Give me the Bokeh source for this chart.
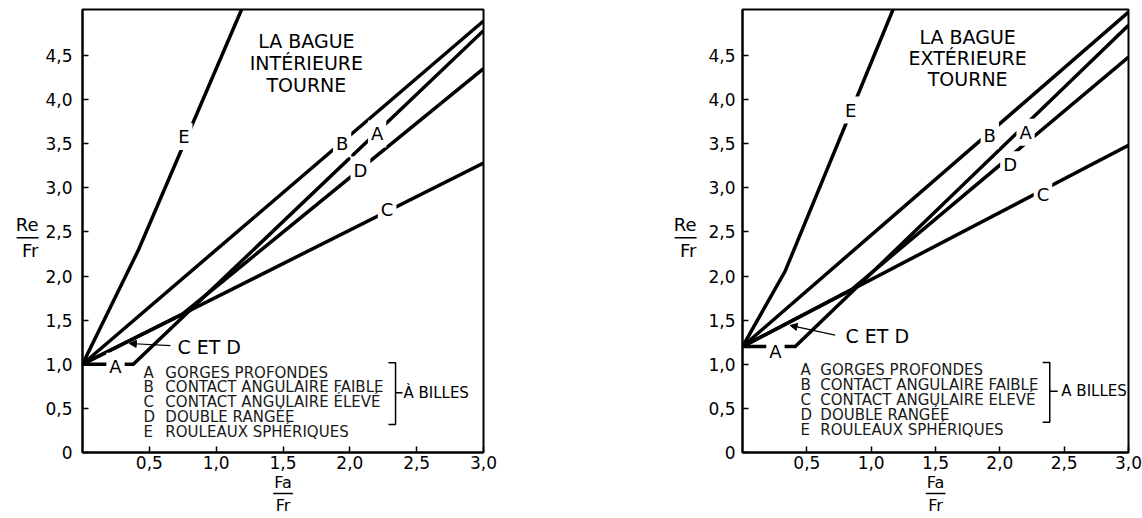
from bokeh.plotting import figure
from bokeh.layouts import row
from bokeh.models import (Label, Arrow, NormalHead, FixedTicker, CustomJSTickFormatter,
                          Range1d, ColumnDataSource)
from bokeh.core.properties import value
from bokeh.embed import file_html
from bokeh.resources import INLINE

# ---------------- data ----------------
curve_letters = ["A", "B", "C", "D", "E"]

# Inner ring rotates (left panel)
inner_A_x = [0.0, 0.38, 3.0]
inner_A_y = [1.0, 1.0, 4.78]
inner_B_x = [0.0, 3.0]
inner_B_y = [1.0, 4.89]
inner_C_x = [0.0, 3.0]
inner_C_y = [1.0, 3.28]
inner_D_x = [0.0, 0.75, 3.0]
inner_D_y = [1.0, 1.57, 4.35]
inner_E_x = [0.0, 0.42, 1.19]
inner_E_y = [1.0, 2.30, 5.02]

# Outer ring rotates (right panel)
outer_A_x = [0.0, 0.41, 3.0]
outer_A_y = [1.2, 1.2, 4.84]
outer_B_x = [0.0, 3.0]
outer_B_y = [1.2, 4.99]
outer_C_x = [0.0, 3.0]
outer_C_y = [1.2, 3.48]
outer_D_x = [0.0, 0.85, 3.0]
outer_D_y = [1.2, 1.85, 4.48]
outer_E_x = [0.0, 0.33, 1.17]
outer_E_y = [1.2, 2.05, 5.02]

x_ticks = [0.5, 1.0, 1.5, 2.0, 2.5, 3.0]
y_ticks = [0, 0.5, 1.0, 1.5, 2.0, 2.5, 3.0, 3.5, 4.0, 4.5]

legend_inner = ["GORGES PROFONDES", "CONTACT ANGULAIRE FAIBLE",
                "CONTACT ANGULAIRE ÉLEVÉ", "DOUBLE RANGÉE", "ROULEAUX SPHÉRIQUES"]
legend_outer = ["GORGES PROFONDES", "CONTACT ANGULAIRE FAIBLE",
                "CONTACT ANGULAIRE ELEVÉ", "DOUBLE RANGÉE", "ROULEAUX SPHÉRIQUES"]
title_inner = ["LA BAGUE", "INTÉRIEURE", "TOURNE"]
title_outer = ["LA BAGUE", "EXTÉRIEURE", "TOURNE"]
y_label = "\u00a0\nRe\n──\nFr"
x_label = "Fa\n──\nFr"

FONT = "DejaVu Sans"


def lab(p, x, y, t, size, align="center", bg=None):
    kw = {}
    if bg:
        kw = dict(background_fill_color=bg, padding=3)
    p.add_layout(Label(x=x, y=y, text=t, text_font=FONT, text_font_size=size,
                       text_align=align, text_baseline="middle", text_color="black", **kw))


def panel(width, bl, br, curves, cfg):
    p = figure(width=width, height=518, x_range=Range1d(0, 3), y_range=Range1d(0, 5.02),
               output_backend="svg", toolbar_location=None,
               min_border_left=bl, min_border_right=br, min_border_top=9, min_border_bottom=65)
    p.xgrid.visible = False
    p.ygrid.visible = False
    p.outline_line_color = "black"
    p.outline_line_width = 2
    p.outline_line_alpha = 1
    fmt = CustomJSTickFormatter(code="return tick == 0 ? '0' : tick.toFixed(1).replace('.', ',');")
    for ax, ticks in ((p.xaxis[0], x_ticks), (p.yaxis[0], y_ticks)):
        ax.ticker = FixedTicker(ticks=ticks)
        ax.formatter = fmt
        ax.axis_line_width = 2
        ax.axis_line_color = "black"
        ax.major_tick_in = 6
        ax.major_tick_out = 0
        ax.major_tick_line_width = 1.5
        ax.minor_tick_line_color = None
        ax.major_label_text_font = FONT
        ax.major_label_text_font_size = "17px"
        ax.major_label_text_color = "black"
        ax.axis_label_text_font = FONT
        ax.axis_label_text_font_style = "normal"
        ax.axis_label_text_color = "black"
        ax.axis_label_text_align = "center"
    p.xaxis.major_label_standoff = 3
    p.yaxis.major_label_standoff = cfg["ystand"]
    p.xaxis.axis_label = x_label
    p.xaxis.axis_label_text_font_size = "16px"
    p.xaxis.axis_label_text_line_height = 0.62
    p.xaxis.axis_label_standoff = 1
    p.yaxis.axis_label = y_label
    p.yaxis.axis_label_text_font_size = "18px"
    p.yaxis.axis_label_text_line_height = 0.62
    p.yaxis.axis_label_orientation = "horizontal"
    p.yaxis.axis_label_standoff = cfg["ylstand"]

    for xs, ys in curves:
        p.line(xs, ys, line_width=3.5, line_color="black", line_join="miter")

    # curve labels
    for (x, y), t in zip(cfg["labels"], ["B", "A", "D", "C", "E", "A"]):
        lab(p, x, y, t, "18px", bg="white")

    # title
    for v, t in zip(cfg["title_y"], cfg["title"]):
        lab(p, cfg["title_x"], v, t, "19px")

    # C ET D
    cx, cy = cfg["cetd"]
    lab(p, cx, cy, "C ET D", "19px", align="left")
    ax0, ay0, ax1, ay1 = cfg["arrow"]
    p.add_layout(Arrow(end=NormalHead(size=7, fill_color="black", line_color="black"),
                       x_start=ax0, y_start=ay0, x_end=ax1, y_end=ay1,
                       line_width=1.2, line_color="black"))

    # legend
    lx, tx = cfg["leg_x"]
    src = ColumnDataSource(dict(lx=[lx] * 5, tx=[tx] * 5, y=cfg["leg_y"],
                                letter=curve_letters, desc=cfg["legend"]))
    for xcol, tcol in (("lx", "letter"), ("tx", "desc")):
        p.text(x=xcol, y="y", text=tcol, source=src, text_font=value(FONT),
               text_font_size="15px", text_baseline="middle", text_align="left",
               text_color="#1a1a1a")
    bx, bs, btop, bbot, bmid, bdash, btx, btext = cfg["bracket"]
    p.line([bs, bx, bx, bs], [btop, btop, bbot, bbot], line_width=1.5, line_color="black")
    p.line([bx, bdash], [bmid, bmid], line_width=1.5, line_color="black")
    lab(p, btx, bmid, btext, "15px", align="left")
    return p


left_cfg = dict(
    ystand=10, ylstand=4,
    labels=[(1.942, 3.50), (2.204, 3.61), (2.079, 3.20), (2.279, 2.75), (0.758, 3.58), (0.247, 0.976)],
    title=title_inner, title_x=1.675, title_y=[4.66, 4.41, 4.16],
    cetd=(0.71, 1.20), arrow=(0.658, 1.21, 0.35, 1.235),
    leg_x=(0.456, 0.62), leg_y=[0.904, 0.740, 0.571, 0.407, 0.237], legend=legend_inner,
    bracket=(2.342, 2.289, 1.018, 0.317, 0.678, 2.394, 2.401, "À BILLES"),
)
right_cfg = dict(
    ystand=7, ylstand=9,
    labels=[(1.922, 3.595), (2.20, 3.63), (2.08, 3.26), (2.335, 2.92), (0.841, 3.88), (0.256, 1.145)],
    title=title_outer, title_x=1.75, title_y=[4.714, 4.466, 4.229],
    cetd=(0.80, 1.315), arrow=(0.72, 1.33, 0.37, 1.44),
    leg_x=(0.45, 0.605), leg_y=[0.938, 0.761, 0.591, 0.430, 0.260], legend=legend_outer,
    bracket=(2.388, 2.333, 1.021, 0.343, 0.693, 2.45, 2.478, "A BILLES"),
)

inner_curves = [(inner_A_x, inner_A_y), (inner_B_x, inner_B_y), (inner_C_x, inner_C_y),
                (inner_D_x, inner_D_y), (inner_E_x, inner_E_y)]
outer_curves = [(outer_A_x, outer_A_y), (outer_B_x, outer_B_y), (outer_C_x, outer_C_y),
                (outer_D_x, outer_D_y), (outer_E_x, outer_E_y)]

p1 = panel(608, 82, 125, inner_curves, left_cfg)
p2 = panel(534, 134, 14, outer_curves, right_cfg)

layout = row(p1, p2, spacing=0)
open("out.html", "w").write(file_html(layout, INLINE))
